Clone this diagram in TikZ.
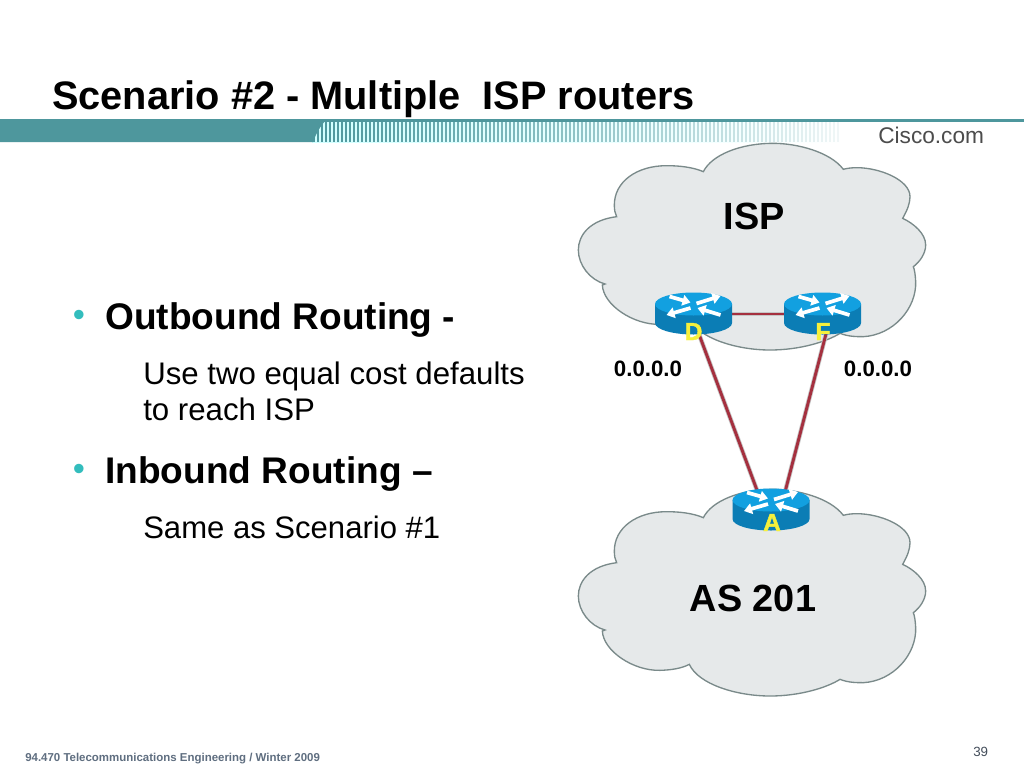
\documentclass[tikz,border=0pt]{standalone}
\usepackage{fontspec}
\setmainfont{Liberation Sans}[BoldFeatures={}]
\newfontfamily\labfont[BoldFeatures={FakeBold=1.6}]{Liberation Sans}
\usetikzlibrary{arrows.meta}
\definecolor{teal1}{HTML}{4E979D}
\definecolor{cloudfill}{HTML}{E6E9EA}
\definecolor{cloudline}{HTML}{7A8A8A}
\definecolor{linkred}{HTML}{A5303F}
\definecolor{routertop}{HTML}{12A0E0}
\definecolor{routerside}{HTML}{0B7DB5}
\definecolor{footgray}{HTML}{5F6E80}
\definecolor{bulletteal}{HTML}{33BDBD}
\definecolor{labyellow}{HTML}{F6F03C}
\newcommand{\fs}[1]{\fontsize{#1}{#1}\selectfont}
\newcommand{\cloudshape}{%
  (140,245) .. controls (60,255) and (25,300) .. (25,345) .. controls (25,390) and (60,435) .. (105,447)
  -- (97,450) .. controls (100,510) and (190,570) .. (270,568) .. controls (305,567) and (335,562) .. (358,550)
  .. controls (385,610) and (500,645) .. (600,645) .. controls (690,645) and (770,620) .. (810,595)
  .. controls (835,605) and (860,605) .. (880,605) .. controls (970,600) and (1040,520) .. (1037,440) .. controls (1036,420) and (1034,405) .. (1030,395)
  .. controls (1050,380) and (1067,355) .. (1067,330) .. controls (1067,295) and (1030,265) .. (998,250)
  .. controls (1012,225) and (1020,205) .. (1020,185) .. controls (1020,135) and (930,98) .. (860,98) .. controls (845,98) and (830,100) .. (820,103)
  .. controls (780,50) and (680,25) .. (610,25) .. controls (510,25) and (425,60) .. (400,110)
  .. controls (370,97) and (330,92) .. (290,92) .. controls (200,92) and (133,140) .. (133,210) .. controls (133,225) and (135,235) .. (140,245) -- cycle}
\tikzset{
  cloudstyle/.style={fill=cloudfill,draw=cloudline,line width=1pt},
  anchorbox/.style={inner sep=0pt,minimum size=2pt},
  link/.style={preaction={draw=gray!45!white,line width=3.4pt},draw=linkred,line width=2.2pt},
  txt/.style={anchor=base west,inner sep=0pt,text=black},
  mid/.style={anchor=base,inner sep=0pt,text=black},
  rlabel/.style={anchor=base,inner sep=0pt,text=labyellow,font=\fs{18.5}\labfont\bfseries},
  rarrow/.style={draw=white,line width=2.8pt,-{Triangle[width=8pt,length=6pt,fill=white]}},
  routericon/.pic={
    \fill[routerside] (-38.5,-10) -- (-38.5,9) arc[start angle=180,end angle=0,x radius=38.5,y radius=11.5] -- (38.5,-10) -- cycle;
    \fill[routertop] (0,-10) ellipse[x radius=38.5,y radius=11.5];
    \draw[rarrow] (-24,-17.5) -- (-3,-11.5);
    \draw[rarrow] (3,-10.5) -- (27,-18);
    \draw[rarrow] (-3,-6) -- (-27,1);
    \draw[rarrow] (27,1) -- (4,-6);
  }
}
\begin{document}
\begin{tikzpicture}[x=0.75pt,y=-0.75pt]
\useasboundingbox (0,0) rectangle (1024,768);
\fill[white] (0,0) rectangle (1024,768);
% banner
\shade[left color=cyan!18!white,right color=white] (312,122) rectangle (845,142);
\foreach \i in {0,...,131}{
  \pgfmathsetmacro{\xa}{313+4*\i}
  \pgfmathsetmacro{\op}{max(0.08,1-0.92*(\i/131)^1.1)}
  \fill[teal1,opacity=\op] (\xa,122) rectangle ++(2.4,20);
}
\fill[teal1] (0,119) -- (327,119) .. controls (320,126) and (316,134) .. (313,142) -- (0,142) -- cycle;
\fill[teal1] (0,119) rectangle (1024,122);
% title
\node[txt,font=\fs{29.8}\bfseries] (title) at (52,109) {Scenario \#2 - Multiple \ ISP routers};
\node[txt,font=\fs{17},text=black!70] (logo) at (878,143) {Cisco.com};
% body
\node[txt,font=\fs{26},text=bulletteal] (b1) at (72.5,326) {•};
\node[txt,font=\fs{27.8}\bfseries] (o1) at (105,329) {Outbound Routing -};
\node[txt,font=\fs{23.4}] (o2) at (143,384) {Use two equal cost defaults};
\node[txt,font=\fs{23.4}] (o3) at (143,420) {to reach ISP};
\node[txt,font=\fs{26},text=bulletteal] (b2) at (72.5,480) {•};
\node[txt,font=\fs{27.8}\bfseries] (i1) at (105,483) {Inbound Routing –};
\node[txt,font=\fs{23.3}] (i2) at (143,538) {Same as Scenario \#1};
% clouds
\begin{scope}[shift={(570,135)},x=0.25pt,y=-0.25pt]
  \draw[cloudstyle] \cloudshape;
\end{scope}
\begin{scope}[shift={(570,481)},x=0.25pt,y=-0.25pt]
  \draw[cloudstyle] \cloudshape;
\end{scope}
\node[mid,font=\fs{28.4}\bfseries] (isp) at (754,229) {ISP};
\node[mid,font=\fs{28.4}\bfseries] (as) at (753,611) {AS 201};
% routers
\node[anchorbox] (D) at (693.5,314) {};
\node[anchorbox] (F) at (822.5,314) {};
\node[anchorbox] (A) at (771,510) {};
\draw[link] (D.center) -- (F.center);
\draw[link] ([xshift=-1.5pt]D.center) -- ([xshift=-5pt]A.center);
\draw[link] ([xshift=6.5pt]F.center) -- ([xshift=7pt]A.center);
\pic at (D.center) {routericon};
\pic at (F.center) {routericon};
\pic at (A.center) {routericon};
\node[rlabel] (Dl) at (693.5,340) {D};
\node[rlabel] (Fl) at (823,340) {F};
\node[rlabel] (Al) at (772,531) {A};
\node[mid,font=\fs{16.7}\bfseries] (r1) at (648,376) {0.0.0.0};
\node[mid,font=\fs{16.7}\bfseries] (r2) at (878,376) {0.0.0.0};
% footer
\node[txt,font=\fs{8.6}\bfseries,text=footgray] (foot) at (25,761) {94.470 Telecommunications Engineering / Winter 2009};
\node[txt,font=\fs{10},text=footgray!70!black] (page) at (973,756) {39};
\end{tikzpicture}
\end{document}
